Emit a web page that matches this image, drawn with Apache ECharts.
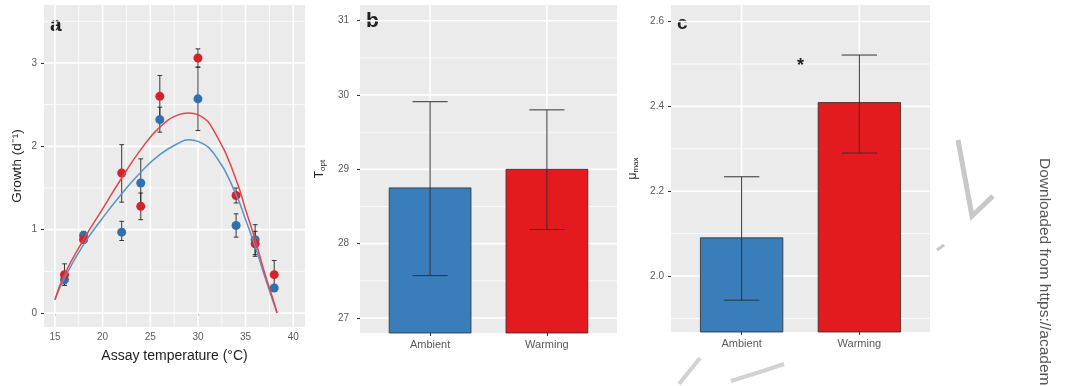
<!DOCTYPE html>
<html><head><meta charset="utf-8">
<script src="https://cdn.jsdelivr.net/npm/echarts@6/dist/echarts.min.js"></script>
<style>html,body{margin:0;padding:0;background:#fff}#c{width:1081px;height:386px}</style>
</head><body><div id="c"></div>
<script>
// ---------- Panel a: growth vs assay temperature ----------
const assayTemps     = [16, 18, 22, 24, 26, 30, 34, 36, 38];
const ambientGrowth  = [0.40, 0.93, 0.97, 1.56, 2.32, 2.57, 1.05, 0.88, 0.30];
const ambientLow     = [0.35, 0.88, 0.87, 1.27, 2.17, 2.19, 0.91, 0.70, 0.26];
const ambientHigh    = [0.45, 0.98, 1.10, 1.85, 2.47, 2.95, 1.19, 1.06, 0.34];
const warmingGrowth  = [0.46, 0.88, 1.68, 1.28, 2.60, 3.06, 1.41, 0.83, 0.46];
const warmingLow     = [0.33, 0.84, 1.33, 1.12, 2.36, 2.95, 1.32, 0.68, 0.29];
const warmingHigh    = [0.59, 0.92, 2.02, 1.44, 2.85, 3.17, 1.50, 0.98, 0.63];
const curveTemps     = [15, 16, 18, 20, 22, 24, 26, 28, 29, 30, 32, 34, 35, 36, 37, 38, 38.3];
const ambientCurve   = [0.16, 0.42, 0.82, 1.14, 1.43, 1.69, 1.90, 2.04, 2.08, 2.06, 1.86, 1.42, 1.12, 0.80, 0.44, 0.10, 0.0];
const warmingCurve   = [0.16, 0.46, 0.88, 1.25, 1.62, 1.96, 2.23, 2.38, 2.40, 2.38, 2.12, 1.60, 1.24, 0.88, 0.48, 0.12, 0.0];
const tempTicks      = [15, 20, 25, 30, 35, 40];
const tempMinor      = [17.5, 22.5, 27.5, 32.5, 37.5];
const growthTicks    = [0, 1, 2, 3];
const growthMinor    = [0.5, 1.5, 2.5, 3.5];

// ---------- Panels b and c: treatment bars ----------
const groups         = ['Ambient', 'Warming'];
const groupPos       = [1, 2];
const toptMean       = [28.75, 29.00];
const toptLow        = [27.57, 28.19];
const toptHigh       = [29.91, 29.80];
const toptTicks      = [27, 28, 29, 30, 31];
const toptMinor      = [27.5, 28.5, 29.5, 30.5];
const mumaxMean      = [2.090, 2.409];
const mumaxLow       = [1.943, 2.290];
const mumaxHigh      = [2.234, 2.521];
const mumaxTicks     = [2.0, 2.2, 2.4, 2.6];
const mumaxMinor     = [1.9, 2.1, 2.3, 2.5];
const starPos        = [1.5, 2.50];

// ---------- styling ----------
const BLUE_BAR = '#3A7DBB', RED_BAR = '#E31B1F';
const BLUE_PT = '#3170AC', RED_PT = '#D3222A';
const BLUE_LN = '#5A93C5', RED_LN = '#E4454D';
const FONT = '"Liberation Sans", Arial, sans-serif';
const TICK_COL = '#5a5a5a';

const AX = [
  {xmin: 13.85, xmax: 41.23, ymin: -0.168, ymax: 3.696},
  {xmin: 0.4, xmax: 2.6, ymin: 26.798, ymax: 31.211},
  {xmin: 0.4, xmax: 2.6, ymin: 1.868, ymax: 2.639}
];

function gridLines(idx, vals, orient, w) {
  const a = AX[idx];
  const xr = (a.xmin + a.xmax) / 2, yr = (a.ymin + a.ymax) / 2;
  return {
    type: 'custom', xAxisIndex: idx, yAxisIndex: idx, silent: true, z: 1,
    data: vals.map(v => orient === 'v' ? [v, yr] : [xr, v]),
    renderItem: (params, api) => {
      const cs = params.coordSys;
      const p = api.coord([api.value(0), api.value(1)]);
      const shape = orient === 'v'
        ? {x1: p[0], y1: cs.y, x2: p[0], y2: cs.y + cs.height}
        : {x1: cs.x, y1: p[1], x2: cs.x + cs.width, y2: p[1]};
      return {type: 'line', shape, style: {stroke: '#ffffff', lineWidth: w}};
    }
  };
}

function errorBars(idx, xs, lows, highs, capW, color, lw, z) {
  return {
    type: 'custom', xAxisIndex: idx, yAxisIndex: idx, silent: true, z: z,
    data: xs.map((x, i) => [x, lows[i], highs[i]]),
    encode: {x: 0, y: [1, 2]},
    renderItem: (params, api) => {
      const x = api.value(0);
      const lo = api.coord([x, api.value(1)]);
      const hi = api.coord([x, api.value(2)]);
      const hw = api.size([capW, 0])[0] / 2;
      const st = {stroke: color, lineWidth: lw};
      return {type: 'group', children: [
        {type: 'line', shape: {x1: lo[0], y1: lo[1], x2: hi[0], y2: hi[1]}, style: st},
        {type: 'line', shape: {x1: lo[0] - hw, y1: lo[1], x2: lo[0] + hw, y2: lo[1]}, style: st},
        {type: 'line', shape: {x1: hi[0] - hw, y1: hi[1], x2: hi[0] + hw, y2: hi[1]}, style: st}
      ]};
    }
  };
}

function bars(idx, means) {
  const base = AX[idx].ymin;
  const cols = [BLUE_BAR, RED_BAR];
  return {
    type: 'custom', xAxisIndex: idx, yAxisIndex: idx, silent: true, z: 3,
    data: groupPos.map((x, i) => [x, means[i]]),
    renderItem: (params, api) => {
      const x = api.value(0);
      const top = api.coord([x, api.value(1)]);
      const bot = api.coord([x, base]);
      const w = api.size([0.7, 0])[0];
      return {type: 'rect',
        shape: {x: top[0] - w / 2, y: top[1], width: w, height: bot[1] - top[1]},
        style: {fill: cols[params.dataIndex], stroke: '#2b2b2b', lineWidth: 0.8}};
    }
  };
}

function xAxisCat(idx) {
  return {
    gridIndex: idx, type: 'value', min: AX[idx].xmin, max: AX[idx].xmax,
    axisLine: {show: false}, splitLine: {show: false},
    axisTick: {show: true, customValues: groupPos, length: 3, lineStyle: {color: '#333', width: 1}},
    axisLabel: {customValues: groupPos, formatter: v => groups[Math.round(v) - 1],
      color: TICK_COL, fontSize: 11, margin: 6, fontFamily: FONT}
  };
}

function yAxisVal(idx, ticks, name, gap, fmt, rich, fs) {
  return {
    gridIndex: idx, type: 'value', min: AX[idx].ymin, max: AX[idx].ymax,
    axisLine: {show: false}, splitLine: {show: false},
    axisTick: {show: true, customValues: ticks, length: 3, lineStyle: {color: '#333', width: 1}},
    axisLabel: {customValues: ticks, formatter: fmt, color: TICK_COL, fontSize: 10, margin: idx === 1 ? 11 : 7, fontFamily: FONT},
    name: name, nameLocation: 'middle', nameGap: gap, nameRotate: 90,
    nameTextStyle: {color: '#222', fontSize: fs, fontFamily: FONT, rich: rich}
  };
}

const subRich = {
  base: {fontSize: 12, color: '#222', fontFamily: FONT},
  sub: {fontSize: 8, color: '#222', fontFamily: FONT, padding: [7, 0, 0, 0]}
};

const option = {
  animation: false,
  textStyle: {fontFamily: FONT},
  grid: [
    {left: 44, top: 5, width: 261, height: 322, show: true, backgroundColor: '#EBEBEB', borderWidth: 0},
    {left: 360, top: 5, width: 257, height: 328, show: true, backgroundColor: '#EBEBEB', borderWidth: 0},
    {left: 671, top: 5, width: 259, height: 327, show: true, backgroundColor: '#EBEBEB', borderWidth: 0}
  ],
  xAxis: [
    {gridIndex: 0, type: 'value', min: AX[0].xmin, max: AX[0].xmax,
      axisLine: {show: false}, splitLine: {show: false},
      axisTick: {show: true, customValues: tempTicks, length: 3, lineStyle: {color: '#333', width: 1}},
      axisLabel: {customValues: tempTicks, color: TICK_COL, fontSize: 10, margin: 5, fontFamily: FONT},
      name: 'Assay temperature (°C)', nameLocation: 'middle', nameGap: 22,
      nameTextStyle: {color: '#222', fontSize: 14, fontFamily: FONT}},
    xAxisCat(1),
    xAxisCat(2)
  ],
  yAxis: [
    yAxisVal(0, growthTicks, 'Growth (d⁻¹)', 20, v => String(v), null, 13.5),
    yAxisVal(1, toptTicks, '{base|T}{sub|opt}', 33, v => String(v), subRich, 12),
    yAxisVal(2, mumaxTicks, '{base|μ}{sub|max}', 31, v => v.toFixed(1), subRich, 12)
  ],
  series: [
    // panel a grid
    gridLines(0, tempMinor, 'v', 0.8), gridLines(0, growthMinor, 'h', 0.8),
    gridLines(0, tempTicks, 'v', 1.6), gridLines(0, growthTicks, 'h', 1.6),
    // panel b grid
    gridLines(1, toptMinor, 'h', 0.8), gridLines(1, toptTicks, 'h', 1.6), gridLines(1, groupPos, 'v', 1.6),
    // panel c grid
    gridLines(2, mumaxMinor, 'h', 0.8), gridLines(2, mumaxTicks, 'h', 1.6), gridLines(2, groupPos, 'v', 1.6),

    // panel a
    errorBars(0, assayTemps, ambientLow, ambientHigh, 0.5, '#222', 0.9, 3),
    errorBars(0, assayTemps, warmingLow, warmingHigh, 0.5, '#222', 0.9, 3),
    {type: 'scatter', xAxisIndex: 0, yAxisIndex: 0, z: 4, symbolSize: 9,
      itemStyle: {color: BLUE_PT, opacity: 1},
      data: assayTemps.map((t, i) => [t, ambientGrowth[i]])},
    {type: 'scatter', xAxisIndex: 0, yAxisIndex: 0, z: 5, symbolSize: 9,
      itemStyle: {color: RED_PT, opacity: 1},
      data: assayTemps.map((t, i) => [t, warmingGrowth[i]])},
    {type: 'line', xAxisIndex: 0, yAxisIndex: 0, z: 6, smooth: 0.5, showSymbol: false,
      lineStyle: {color: BLUE_LN, width: 1.5},
      data: curveTemps.map((t, i) => [t, ambientCurve[i]])},
    {type: 'line', xAxisIndex: 0, yAxisIndex: 0, z: 7, smooth: 0.5, showSymbol: false,
      lineStyle: {color: RED_LN, width: 1.5},
      data: curveTemps.map((t, i) => [t, warmingCurve[i]])},

    // panel b
    bars(1, toptMean),
    errorBars(1, groupPos, toptLow, toptHigh, 0.3, '#333', 1, 5),
    // panel c
    bars(2, mumaxMean),
    errorBars(2, groupPos, mumaxLow, mumaxHigh, 0.3, '#333', 1, 5),
    {type: 'custom', xAxisIndex: 2, yAxisIndex: 2, z: 6, silent: true,
      data: [starPos],
      renderItem: (params, api) => {
        const p = api.coord([api.value(0), api.value(1)]);
        return {type: 'text', x: p[0], y: p[1] + 2,
          style: {text: '*', font: 'bold 18px ' + FONT, fill: '#222',
            textAlign: 'center', textVerticalAlign: 'middle'}};
      }}
  ],
  graphic: [
    {type: 'text', left: 50, top: 15, style: {text: 'a', font: 'bold 21px ' + FONT, fill: '#222'}},
    {type: 'text', left: 366, top: 11, style: {text: 'b', font: 'bold 21px ' + FONT, fill: '#222'}},
    {type: 'text', left: 677, top: 14, style: {text: 'c', font: 'bold 19px ' + FONT, fill: '#222'}},
    {type: 'text', x: 1044, y: 158, rotation: -Math.PI / 2,
      style: {text: 'Downloaded from https://academic.oup.com', font: '15.5px ' + FONT, fill: '#555',
        textAlign: 'left', textVerticalAlign: 'middle'}},
    // faint watermark strokes
    {type: 'polyline', shape: {points: [[958, 140], [972, 216], [993, 196]]},
      style: {stroke: '#c8c8c8', lineWidth: 5, fill: null}},
    {type: 'polyline', shape: {points: [[937, 250], [944, 245]]},
      style: {stroke: '#c8c8c8', lineWidth: 3, fill: null}},
    {type: 'polyline', shape: {points: [[700, 358], [679, 384]]},
      style: {stroke: '#d2d2d2', lineWidth: 4, fill: null}},
    {type: 'polyline', shape: {points: [[731, 381], [760, 372], [784, 364]]},
      style: {stroke: '#d2d2d2', lineWidth: 4, fill: null}}
  ]
};

const chart = echarts.init(document.getElementById('c'), null, {renderer: 'canvas'});
chart.setOption(option);
</script>
</body></html>
